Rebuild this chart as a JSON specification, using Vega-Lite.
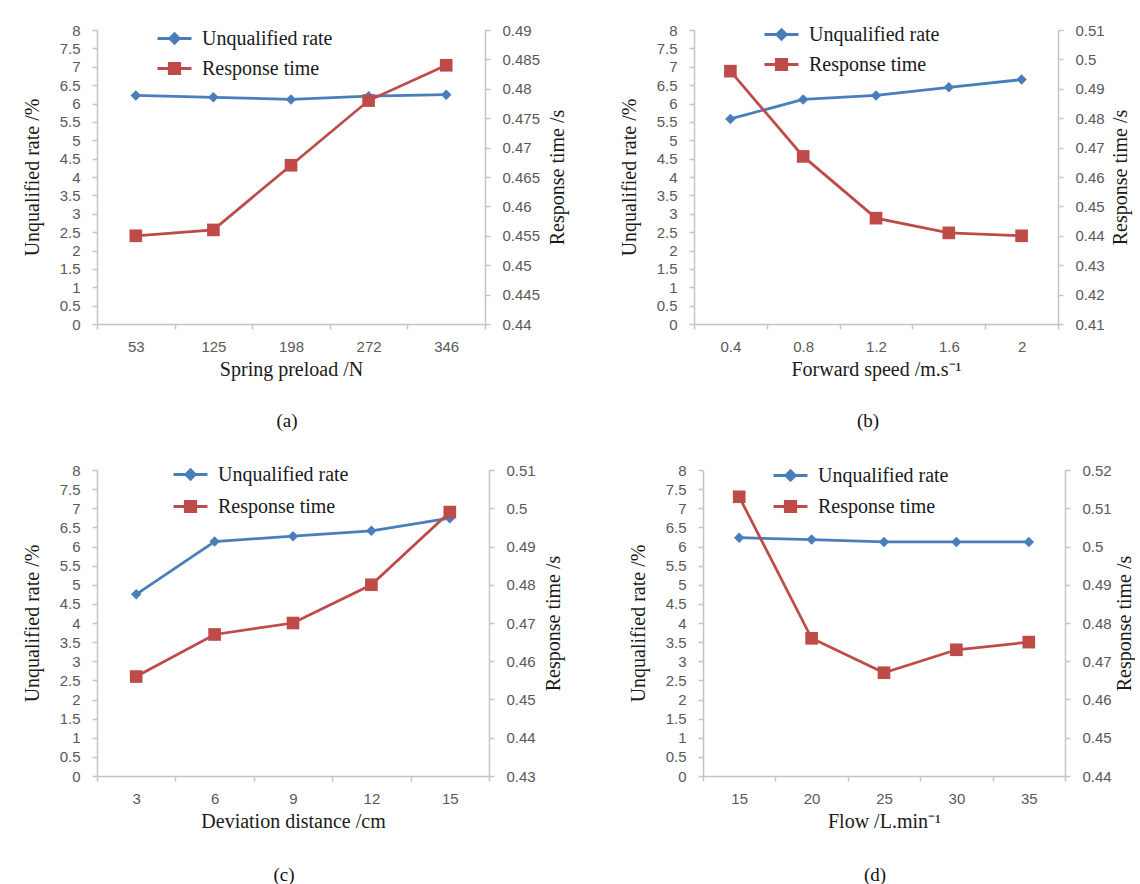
{
  "$schema": "https://vega.github.io/schema/vega-lite/v6.json",
  "background": "white",
  "padding": {"left": 22, "top": 16, "right": 0, "bottom": 0},
  "spacing": 25,
  "datasets": {
    "a": [
      {"x": 53, "rate": 6.22, "time": 0.455},
      {"x": 125, "rate": 6.17, "time": 0.456},
      {"x": 198, "rate": 6.11, "time": 0.467},
      {"x": 272, "rate": 6.2, "time": 0.478},
      {"x": 346, "rate": 6.24, "time": 0.484}
    ],
    "b": [
      {"x": 0.4, "rate": 5.58, "time": 0.496},
      {"x": 0.8, "rate": 6.11, "time": 0.467},
      {"x": 1.2, "rate": 6.22, "time": 0.446},
      {"x": 1.6, "rate": 6.44, "time": 0.441},
      {"x": 2, "rate": 6.65, "time": 0.44}
    ],
    "c": [
      {"x": 3, "rate": 4.75, "time": 0.456},
      {"x": 6, "rate": 6.13, "time": 0.467},
      {"x": 9, "rate": 6.27, "time": 0.47},
      {"x": 12, "rate": 6.41, "time": 0.48},
      {"x": 15, "rate": 6.74, "time": 0.499}
    ],
    "d": [
      {"x": 15, "rate": 6.23, "time": 0.513},
      {"x": 20, "rate": 6.18, "time": 0.476},
      {"x": 25, "rate": 6.12, "time": 0.467},
      {"x": 30, "rate": 6.12, "time": 0.473},
      {"x": 35, "rate": 6.12, "time": 0.475}
    ]
  },
  "vconcat": [
    {
      "hconcat": [
        {
          "width": 388, "height": 294,
          "data": {"name": "a"},
          "title": {"text": "(a)", "orient": "bottom", "anchor": "middle", "baseline": "top", "offset": 33, "dx": -4},
          "encoding": {"x": {"field": "x", "type": "ordinal", "scale": {"type": "band", "paddingInner": 0, "paddingOuter": 0}, "axis": {"title": "Spring preload /N"}}},
          "layer": [
            {
              "encoding": {"y": {"field": "rate", "type": "quantitative", "scale": {"domain": [0, 8]}, "axis": {"orient": "left", "title": "Unqualified rate /%", "values": [0,0.5,1,1.5,2,2.5,3,3.5,4,4.5,5,5.5,6,6.5,7,7.5,8], "titlePadding": 17}}},
              "layer": [
                {"mark": {"type": "line", "strokeWidth": 2.75}, "encoding": {"color": {"datum": "Unqualified rate", "scale": {"range": ["#4a7ebb"]}, "legend": {"title": null, "legendX": 59, "legendY": -10, "symbolType": "M-1,0L1,0M0,-0.27L0.27,0L0,0.27L-0.27,0Z", "symbolFillColor": "#4a7ebb"}}}},
                {"mark": {"type": "point", "shape": "diamond", "filled": true, "size": 110, "color": "#4a7ebb", "opacity": 1}}
              ]
            },
            {
              "encoding": {"y": {"field": "time", "type": "quantitative", "scale": {"domain": [0.44, 0.49]}, "axis": {"orient": "right", "title": "Response time /s", "values": [0.44,0.445,0.45,0.455,0.46,0.465,0.47,0.475,0.48,0.485,0.49], "titleAngle": 270, "titleBaseline": "top", "titlePadding": 8}}},
              "layer": [
                {"mark": {"type": "line", "strokeWidth": 2.75}, "encoding": {"color": {"datum": "Response time", "scale": {"range": ["#be4b48"]}, "legend": {"title": null, "legendX": 59, "legendY": 20, "symbolType": "M-1,0L1,0M-0.3,-0.3L0.3,-0.3L0.3,0.3L-0.3,0.3Z", "symbolFillColor": "#be4b48"}}}},
                {"mark": {"type": "point", "shape": "square", "filled": true, "size": 160, "color": "#be4b48", "opacity": 1}}
              ]
            }
          ],
          "resolve": {"scale": {"y": "independent", "color": "independent"}}
        },
        {
          "width": 364, "height": 294,
          "data": {"name": "b"},
          "title": {"text": "(b)", "orient": "bottom", "anchor": "middle", "baseline": "top", "offset": 33, "dx": -8},
          "encoding": {"x": {"field": "x", "type": "ordinal", "scale": {"type": "band", "paddingInner": 0, "paddingOuter": 0}, "axis": {"title": "Forward speed /m.s⁻¹"}}},
          "layer": [
            {
              "encoding": {"y": {"field": "rate", "type": "quantitative", "scale": {"domain": [0, 8]}, "axis": {"orient": "left", "title": "Unqualified rate /%", "values": [0,0.5,1,1.5,2,2.5,3,3.5,4,4.5,5,5.5,6,6.5,7,7.5,8], "titlePadding": 17}}},
              "layer": [
                {"mark": {"type": "line", "strokeWidth": 2.75}, "encoding": {"color": {"datum": "Unqualified rate", "scale": {"range": ["#4a7ebb"]}, "legend": {"title": null, "legendX": 69, "legendY": -14, "symbolType": "M-1,0L1,0M0,-0.27L0.27,0L0,0.27L-0.27,0Z", "symbolFillColor": "#4a7ebb"}}}},
                {"mark": {"type": "point", "shape": "diamond", "filled": true, "size": 110, "color": "#4a7ebb", "opacity": 1}}
              ]
            },
            {
              "encoding": {"y": {"field": "time", "type": "quantitative", "scale": {"domain": [0.41, 0.51]}, "axis": {"orient": "right", "title": "Response time /s", "values": [0.41,0.42,0.43,0.44,0.45,0.46,0.47,0.48,0.49,0.5,0.51], "titleAngle": 270, "titleBaseline": "top", "titlePadding": 6}}},
              "layer": [
                {"mark": {"type": "line", "strokeWidth": 2.75}, "encoding": {"color": {"datum": "Response time", "scale": {"range": ["#be4b48"]}, "legend": {"title": null, "legendX": 69, "legendY": 16, "symbolType": "M-1,0L1,0M-0.3,-0.3L0.3,-0.3L0.3,0.3L-0.3,0.3Z", "symbolFillColor": "#be4b48"}}}},
                {"mark": {"type": "point", "shape": "square", "filled": true, "size": 160, "color": "#be4b48", "opacity": 1}}
              ]
            }
          ],
          "resolve": {"scale": {"y": "independent", "color": "independent"}}
        }
      ],
      "spacing": 209,
      "bounds": "flush"
    },
    {
      "hconcat": [
        {
          "width": 392, "height": 306,
          "data": {"name": "c"},
          "title": {"text": "(c)", "orient": "bottom", "anchor": "middle", "baseline": "top", "offset": 35, "dx": -9},
          "encoding": {"x": {"field": "x", "type": "ordinal", "scale": {"type": "band", "paddingInner": 0, "paddingOuter": 0}, "axis": {"title": "Deviation distance /cm"}}},
          "layer": [
            {
              "encoding": {"y": {"field": "rate", "type": "quantitative", "scale": {"domain": [0, 8]}, "axis": {"orient": "left", "title": "Unqualified rate /%", "values": [0,0.5,1,1.5,2,2.5,3,3.5,4,4.5,5,5.5,6,6.5,7,7.5,8], "titlePadding": 17}}},
              "layer": [
                {"mark": {"type": "line", "strokeWidth": 2.75}, "encoding": {"color": {"datum": "Unqualified rate", "scale": {"range": ["#4a7ebb"]}, "legend": {"title": null, "legendX": 75, "legendY": -14, "symbolType": "M-1,0L1,0M0,-0.27L0.27,0L0,0.27L-0.27,0Z", "symbolFillColor": "#4a7ebb"}}}},
                {"mark": {"type": "point", "shape": "diamond", "filled": true, "size": 110, "color": "#4a7ebb", "opacity": 1}}
              ]
            },
            {
              "encoding": {"y": {"field": "time", "type": "quantitative", "scale": {"domain": [0.43, 0.51]}, "axis": {"orient": "right", "title": "Response time /s", "values": [0.43,0.44,0.45,0.46,0.47,0.48,0.49,0.5,0.51], "titleAngle": 270, "titleBaseline": "top", "titlePadding": 8}}},
              "layer": [
                {"mark": {"type": "line", "strokeWidth": 2.75}, "encoding": {"color": {"datum": "Response time", "scale": {"range": ["#be4b48"]}, "legend": {"title": null, "legendX": 75, "legendY": 18, "symbolType": "M-1,0L1,0M-0.3,-0.3L0.3,-0.3L0.3,0.3L-0.3,0.3Z", "symbolFillColor": "#be4b48"}}}},
                {"mark": {"type": "point", "shape": "square", "filled": true, "size": 160, "color": "#be4b48", "opacity": 1}}
              ]
            }
          ],
          "resolve": {"scale": {"y": "independent", "color": "independent"}}
        },
        {
          "width": 362, "height": 306,
          "data": {"name": "d"},
          "title": {"text": "(d)", "orient": "bottom", "anchor": "middle", "baseline": "top", "offset": 35, "dx": -9},
          "encoding": {"x": {"field": "x", "type": "ordinal", "scale": {"type": "band", "paddingInner": 0, "paddingOuter": 0}, "axis": {"title": "Flow /L.min⁻¹"}}},
          "layer": [
            {
              "encoding": {"y": {"field": "rate", "type": "quantitative", "scale": {"domain": [0, 8]}, "axis": {"orient": "left", "title": "Unqualified rate /%", "values": [0,0.5,1,1.5,2,2.5,3,3.5,4,4.5,5,5.5,6,6.5,7,7.5,8], "titlePadding": 17}}},
              "layer": [
                {"mark": {"type": "line", "strokeWidth": 2.75}, "encoding": {"color": {"datum": "Unqualified rate", "scale": {"range": ["#4a7ebb"]}, "legend": {"title": null, "legendX": 69, "legendY": -13, "symbolType": "M-1,0L1,0M0,-0.27L0.27,0L0,0.27L-0.27,0Z", "symbolFillColor": "#4a7ebb"}}}},
                {"mark": {"type": "point", "shape": "diamond", "filled": true, "size": 110, "color": "#4a7ebb", "opacity": 1}}
              ]
            },
            {
              "encoding": {"y": {"field": "time", "type": "quantitative", "scale": {"domain": [0.44, 0.52]}, "axis": {"orient": "right", "title": "Response time /s", "values": [0.44,0.45,0.46,0.47,0.48,0.49,0.5,0.51,0.52], "titleAngle": 270, "titleBaseline": "top", "titlePadding": 3}}},
              "layer": [
                {"mark": {"type": "line", "strokeWidth": 2.75}, "encoding": {"color": {"datum": "Response time", "scale": {"range": ["#be4b48"]}, "legend": {"title": null, "legendX": 69, "legendY": 18, "symbolType": "M-1,0L1,0M-0.3,-0.3L0.3,-0.3L0.3,0.3L-0.3,0.3Z", "symbolFillColor": "#be4b48"}}}},
                {"mark": {"type": "point", "shape": "square", "filled": true, "size": 160, "color": "#be4b48", "opacity": 1}}
              ]
            }
          ],
          "resolve": {"scale": {"y": "independent", "color": "independent"}}
        }
      ],
      "spacing": 214,
      "bounds": "flush"
    }
  ],
  "config": {
    "view": {"stroke": null},
    "axis": {
      "grid": false,
      "domainColor": "#c4c4c4",
      "domainWidth": 1.5,
      "tickColor": "#c4c4c4",
      "tickWidth": 1.5,
      "tickSize": 5,
      "labelFont": "Liberation Sans",
      "labelFontSize": 15,
      "labelColor": "#595959",
      "labelPadding": 12,
      "titleFont": "Liberation Serif",
      "titleFontSize": 20,
      "titleFontWeight": "normal",
      "titleColor": "#1a1a1a",
      "format": "~g"
    },
    "axisX": {"labelAngle": 0, "tickBand": "extent", "labelPadding": 10, "titlePadding": 5},
    "legend": {
      "orient": "none",
      "padding": 0,
      "labelFont": "Liberation Serif",
      "labelFontSize": 20,
      "labelColor": "#1a1a1a",
      "labelOffset": 9,
      "symbolSize": 1156,
      "symbolStrokeWidth": 3
    },
    "title": {"font": "Liberation Serif", "fontSize": 19, "fontWeight": "normal", "color": "#111111"}
  }
}
